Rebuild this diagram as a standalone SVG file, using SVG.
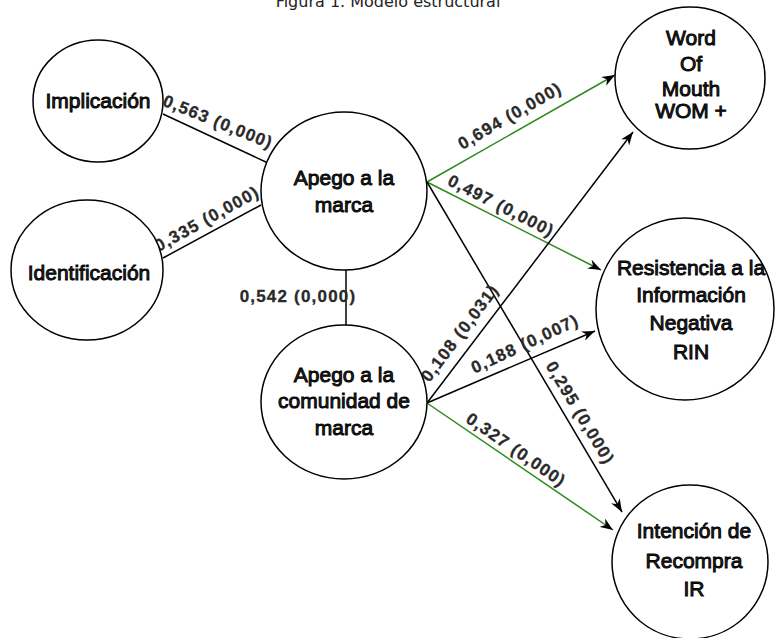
<svg xmlns="http://www.w3.org/2000/svg" width="775" height="638" viewBox="0 0 775 638">
<defs>
<marker id="arr" markerUnits="userSpaceOnUse" markerWidth="14" markerHeight="10" refX="13" refY="5" orient="auto">
<path d="M0,0 L13,5 L0,10 L4,5 z" fill="#000"/>
</marker>
<style>
.node ellipse{fill:#fff;stroke:#000;stroke-width:1.5}
.node text{font-family:"Liberation Sans",Arial,sans-serif;font-size:21px;fill:#222;stroke:#000;stroke-width:0.9;text-anchor:middle}
.c{fill:none;stroke:#000;stroke-width:1.5}
.g{fill:none;stroke:#2a8a1a;stroke-width:1.5}
.lbl{font-family:"Liberation Sans",Arial,sans-serif;font-size:17px;font-weight:bold;fill:#2a2a2a;stroke:#2a2a2a;stroke-width:0.3;letter-spacing:1.2px;text-anchor:middle;dominant-baseline:central}
.title{font-family:"DejaVu Sans",sans-serif;font-size:16px;fill:#222;text-anchor:middle}
</style>
</defs>
<rect width="775" height="638" fill="#fff"/>
<text class="title" x="388" y="7">Figura 1. Modelo estructural</text>

<g id="connectors">
<line class="c" x1="163" y1="114" x2="268" y2="163"/>
<line class="c" x1="163" y1="258" x2="261" y2="205"/>
<line class="c" x1="346" y1="270" x2="346" y2="325"/>
<line class="g" x1="427" y1="182" x2="615" y2="75" marker-end="url(#arr)"/>
<line class="g" x1="427" y1="182" x2="601" y2="270" marker-end="url(#arr)"/>
<line class="c" x1="427" y1="182" x2="622" y2="512" marker-end="url(#arr)"/>
<line class="c" x1="427" y1="403" x2="633" y2="132" marker-end="url(#arr)"/>
<line class="c" x1="427" y1="403" x2="595" y2="331" marker-end="url(#arr)"/>
<line class="g" x1="427" y1="403" x2="613" y2="530" marker-end="url(#arr)"/>
</g>

<g id="labels">
<text class="lbl" transform="translate(218,122) rotate(22)">0,563 (0,000)</text>
<text class="lbl" transform="translate(207,219) rotate(-29)">0,335 (0,000)</text>
<text class="lbl" x="298" y="296">0,542 (0,000)</text>
<text class="lbl" transform="translate(510,116) rotate(-30)">0,694 (0,000)</text>
<text class="lbl" transform="translate(501,206) rotate(27)">0,497 (0,000)</text>
<text class="lbl" transform="translate(460,333) rotate(-53)">0,108 (0,031)</text>
<text class="lbl" transform="translate(525,344) rotate(-25)">0,188 (0,007)</text>
<text class="lbl" transform="translate(580,413) rotate(59)">0,295 (0,000)</text>
<text class="lbl" transform="translate(516,450) rotate(34.5)">0,327 (0,000)</text>
</g>

<g id="implicacion" class="node">
<ellipse cx="98" cy="101" rx="65" ry="61"/>
<text x="98" y="108">Implicación</text>
</g>
<g id="identificacion" class="node">
<ellipse cx="87" cy="270" rx="76" ry="70"/>
<text x="89" y="280">Identificación</text>
</g>
<g id="apego-marca" class="node">
<ellipse cx="344" cy="191" rx="83" ry="79"/>
<text x="344" y="185">Apego a la</text>
<text x="344" y="212">marca</text>
</g>
<g id="apego-comunidad" class="node">
<ellipse cx="344" cy="402" rx="83" ry="77"/>
<text x="344" y="382">Apego a la</text>
<text x="344" y="408">comunidad de</text>
<text x="344" y="435">marca</text>
</g>
<g id="wom" class="node">
<ellipse cx="690" cy="78" rx="75" ry="71"/>
<text x="691" y="45">Word</text>
<text x="691" y="71">Of</text>
<text x="691" y="96">Mouth</text>
<text x="691" y="118">WOM +</text>
</g>
<g id="rin" class="node">
<ellipse cx="685" cy="309" rx="89" ry="91"/>
<text x="691" y="275">Resistencia a la</text>
<text x="691" y="302">Información</text>
<text x="691" y="330">Negativa</text>
<text x="691" y="359">RIN</text>
</g>
<g id="ir" class="node">
<ellipse cx="690" cy="562" rx="78" ry="77"/>
<text x="694" y="538">Intención de</text>
<text x="694" y="568">Recompra</text>
<text x="694" y="596">IR</text>
</g>
</svg>
